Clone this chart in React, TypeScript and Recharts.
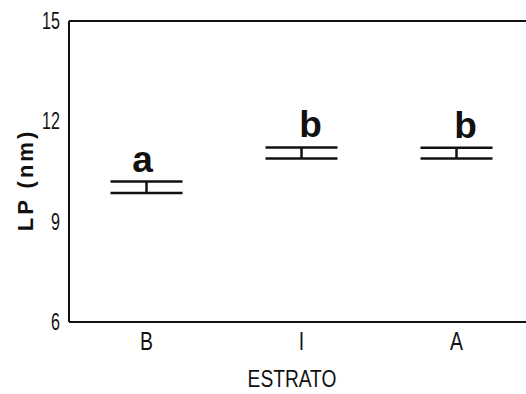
import { ComposedChart, Scatter, ErrorBar, XAxis, YAxis, ReferenceLine, LabelList } from "recharts";

const categories = ["B", "I", "A"];
const means = [10.03, 11.055, 11.05];
const errors = [0.17, 0.165, 0.16];
const letters = ["a", "b", "b"];
const yTicks = [6, 9, 12, 15];

const rows = categories.map((cat, i) => ({
  cat,
  mean: means[i],
  err: errors[i],
  letter: letters[i],
}));

const sans = "'Liberation Sans', Arial, sans-serif";
const ink = "#111";

// squeezed text, the original uses a narrow face
function Narrow({ x, y, sx, anchor, size, children }: any) {
  return (
    <g transform={`translate(${x},${y}) scale(${sx},1)`}>
      <text x={0} y={0} textAnchor={anchor} fontFamily={sans} fontSize={size} fill={ink}>
        {children}
      </text>
    </g>
  );
}

function YTick(props: any) {
  const { x, y, payload } = props;
  return (
    <Narrow x={x} y={y + 8} sx={0.7} anchor="end" size={23}>
      {payload.value}
    </Narrow>
  );
}

function XTick(props: any) {
  const { x, y, payload } = props;
  return (
    <Narrow x={x} y={y + 17} sx={0.78} anchor="middle" size={25}>
      {payload.value}
    </Narrow>
  );
}

function LetterLabel(props: any) {
  const { x, y, width, height, value, index } = props;
  const row = rows[index];
  if (!row) return null;
  const cx = x + (width ?? 0) / 2;
  const cy = y + (height ?? 0) / 2;
  const capPx = row.err * 33.55;
  const dx = value === "a" ? -4 : 9;
  return (
    <text
      x={cx + dx}
      y={cy - capPx - 10}
      textAnchor="middle"
      fontFamily={sans}
      fontWeight="bold"
      fontSize={37}
      fill={ink}
    >
      {value}
    </text>
  );
}

function YLabel() {
  return (
    <text
      x={0}
      y={0}
      transform="translate(25,180) rotate(-90)"
      textAnchor="middle"
      dominantBaseline="central"
      fontFamily={sans}
      fontWeight="bold"
      fontSize={22}
      letterSpacing={3}
      fill={ink}
    >
      LP (nm)
    </text>
  );
}

function XLabel() {
  return (
    <Narrow x={292} y={387} sx={0.8} anchor="middle" size={24}>
      ESTRATO
    </Narrow>
  );
}

export default function App() {
  return (
    <div style={{ position: "fixed", left: 0, top: 0, width: 526, height: 394, overflow: "hidden", background: "#fff" }}>
      <ComposedChart width={540} height={394} data={rows} margin={{ top: 21, right: 6, bottom: 0, left: 0 }}>
        <XAxis
          dataKey="cat"
          type="category"
          scale="band"
          height={72}
          axisLine={{ stroke: ink, strokeWidth: 2 }}
          tickLine={false}
          tickMargin={5}
          tick={<XTick />}
          label={<XLabel />}
        />
        <YAxis
          type="number"
          domain={[6, 15]}
          ticks={yTicks}
          width={69}
          axisLine={{ stroke: ink, strokeWidth: 2 }}
          tickLine={false}
          tickMargin={3}
          tick={<YTick />}
          label={<YLabel />}
        />
        <ReferenceLine y={15} stroke={ink} strokeWidth={2} />
        <Scatter dataKey="mean" isAnimationActive={false} shape={() => <g />}>
          <ErrorBar dataKey="err" direction="y" width={36} stroke={ink} strokeWidth={2.5} />
          <LabelList dataKey="letter" content={LetterLabel} />
        </Scatter>
      </ComposedChart>
    </div>
  );
}
